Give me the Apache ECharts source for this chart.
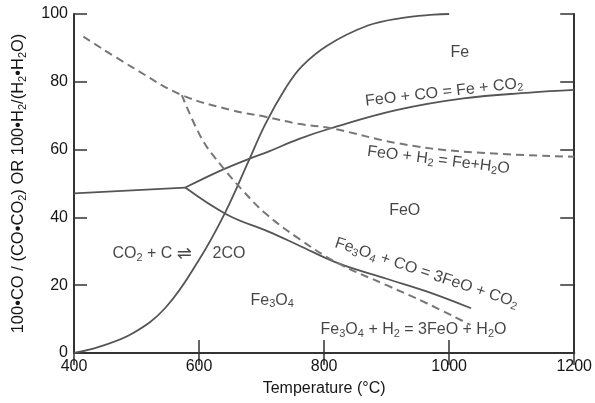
<!DOCTYPE html>
<html>
<head>
<meta charset="utf-8">
<script src="https://cdn.jsdelivr.net/npm/echarts@6/dist/echarts.min.js"></script>
<style>
  html, body { margin: 0; padding: 0; background: #fff; }
  #chart { width: 595px; height: 403px; }
</style>
</head>
<body>
<div id="chart"></div>
<script>
// 读图得到的数据 (温度 °C, 百分比)
const xTicks = [400, 600, 800, 1000, 1200];
const yTicks = [0, 20, 40, 60, 80, 100];

// CO2 + C = 2CO
const boudouard = [[400, 0], [441, 1.9], [494, 5.8], [547, 13.5], [600, 27.5], [642, 41.5], [679, 56.5], [706, 67.5], [738, 78.0], [764, 84.5], [806, 90.8], [870, 96.6], [923, 98.8], [976, 99.8], [1000, 100]];
// Fe3O4 / FeO below 570
const wustiteLimit = [[400, 47.1], [578, 48.8]];
// FeO + CO = Fe + CO2
const feoCo = [[578, 48.8], [637, 54.0], [679, 57.2], [711, 59.4], [759, 63.1], [811, 66.3], [917, 71.7], [1023, 75.1], [1129, 76.8], [1200, 77.6]];
// Fe3O4 + CO = 3FeO + CO2
const fe3o4Co = [[578, 48.8], [645, 40.8], [711, 35.8], [759, 31.8], [822, 26.5], [900, 21.9], [965, 18.1], [1035, 13.2]];
// FeO + H2 = Fe + H2O
const feoH2 = [[415, 93.3], [494, 84.2], [572.5, 76.1], [653, 71.6], [706, 69.7], [759, 67.6], [811, 66.3], [917, 61.9], [1023, 59.4], [1200, 57.9]];
// Fe3O4 + H2 = 3FeO + H2O
const fe3o4H2 = [[572.5, 76.1], [605, 63.0], [637, 55.0], [669, 48.1], [706, 41.2], [759, 33.8], [822, 26.5], [900, 20.0], [965, 14.6], [1034, 8.3]];

// 标注文字: [温度, 数值, 文本, 旋转角]
const notes = [
  [1017, 88.5, 'Fe', 0],
  [992, 76.9, 'FeO + CO = Fe + CO{s|2}', 6.5],
  [983, 56.9, 'FeO + H{s|2} = Fe+H{s|2}O', -7],
  [929, 41.9, 'FeO', 0],
  [964, 23.6, 'Fe{s|3}O{s|4} + CO = 3FeO + CO{s|2}', -18.5],
  [943, 6.9, 'Fe{s|3}O{s|4} + H{s|2} = 3FeO + H{s|2}O', 0],
  [717, 15.5, 'Fe{s|3}O{s|4}', 0],
  [525, 29.2, 'CO{s|2} + C {a|⇌}', 0],
  [648, 29.2, '2CO', 0],
];

const font = '"Liberation Sans", Arial, sans-serif';
const textColor = '#161616';
const rich = {
  s: { fontSize: 11, lineHeight: 11, verticalAlign: 'bottom', color: textColor, fontFamily: font },
  a: { fontSize: 18, fontFamily: 'DejaVu Sans', color: textColor },
};
const axisColor = '#333';

const solid = { color: '#555', width: 1.8 };
const dashed = { color: '#777', width: 2, type: [8, 5] };

function lineSeries(data, style) {
  return {
    type: 'line',
    data: data,
    symbol: 'none',
    smooth: 0.4,
    lineStyle: style,
    silent: true,
  };
}

let option = {
  animation: false,
  grid: { left: 74, right: 17, top: 14, bottom: 50 },
  xAxis: [
    {
      type: 'value',
      min: xTicks[0],
      max: xTicks[xTicks.length - 1],
      interval: 200,
      name: 'Temperature (°C)',
      nameLocation: 'middle',
      nameGap: 28,
      nameTextStyle: { fontSize: 16, color: textColor, fontFamily: font },
      axisLine: { show: true, lineStyle: { color: axisColor, width: 2 } },
      axisTick: { show: true, inside: true, length: 13, lineStyle: { color: axisColor, width: 1.5 } },
      axisLabel: { fontSize: 16, color: textColor, fontFamily: font, margin: 6, formatter: (v) => String(v) },
      splitLine: { show: false },
    },
    {
      type: 'value',
      position: 'top',
      min: xTicks[0],
      max: xTicks[xTicks.length - 1],
      interval: 200,
      axisLine: { show: true, lineStyle: { color: axisColor, width: 2 } },
      axisTick: { show: true, inside: true, length: 12, lineStyle: { color: axisColor, width: 1.5 } },
      axisLabel: { show: false },
      splitLine: { show: false },
    },
  ],
  yAxis: [
    {
      type: 'value',
      min: yTicks[0],
      max: yTicks[yTicks.length - 1],
      interval: 20,
      name: '100•CO / (CO•CO{s|2}) OR 100•H{s|2}/(H{s|2}•H{s|2}O)',
      nameLocation: 'middle',
      nameGap: 46,
      nameTextStyle: { fontSize: 16.5, color: textColor, fontFamily: font, lineHeight: 19, rich: rich },
      axisLine: { show: true, lineStyle: { color: axisColor, width: 2 } },
      axisTick: { show: true, inside: true, length: 13, lineStyle: { color: axisColor, width: 1.5 } },
      axisLabel: { fontSize: 16, color: textColor, fontFamily: font, margin: 6 },
      splitLine: { show: false },
    },
    {
      type: 'value',
      position: 'right',
      min: yTicks[0],
      max: yTicks[yTicks.length - 1],
      interval: 20,
      axisLine: { show: true, lineStyle: { color: axisColor, width: 2 } },
      axisTick: { show: true, inside: true, length: 14, lineStyle: { color: axisColor, width: 1.5 } },
      axisLabel: { show: false },
      splitLine: { show: false },
    },
  ],
  series: [
    lineSeries(boudouard, solid),
    lineSeries(wustiteLimit, solid),
    lineSeries(feoCo, solid),
    lineSeries(fe3o4Co, solid),
    lineSeries(feoH2, dashed),
    lineSeries(fe3o4H2, dashed),
    {
      type: 'scatter',
      symbolSize: 0,
      silent: true,
      data: notes.map((n) => ({
        value: [n[0], n[1]],
        label: { formatter: n[2], rotate: n[3] },
      })),
      label: {
        show: true,
        position: 'inside',
        align: 'center',
        verticalAlign: 'middle',
        fontSize: 16,
        lineHeight: 19,
        color: textColor,
        fontFamily: font,
        rich: rich,
      },
    },
  ],
};

const myChart = echarts.init(document.getElementById('chart'), null, { renderer: 'canvas' });
myChart.setOption(option);
</script>
</body>
</html>
